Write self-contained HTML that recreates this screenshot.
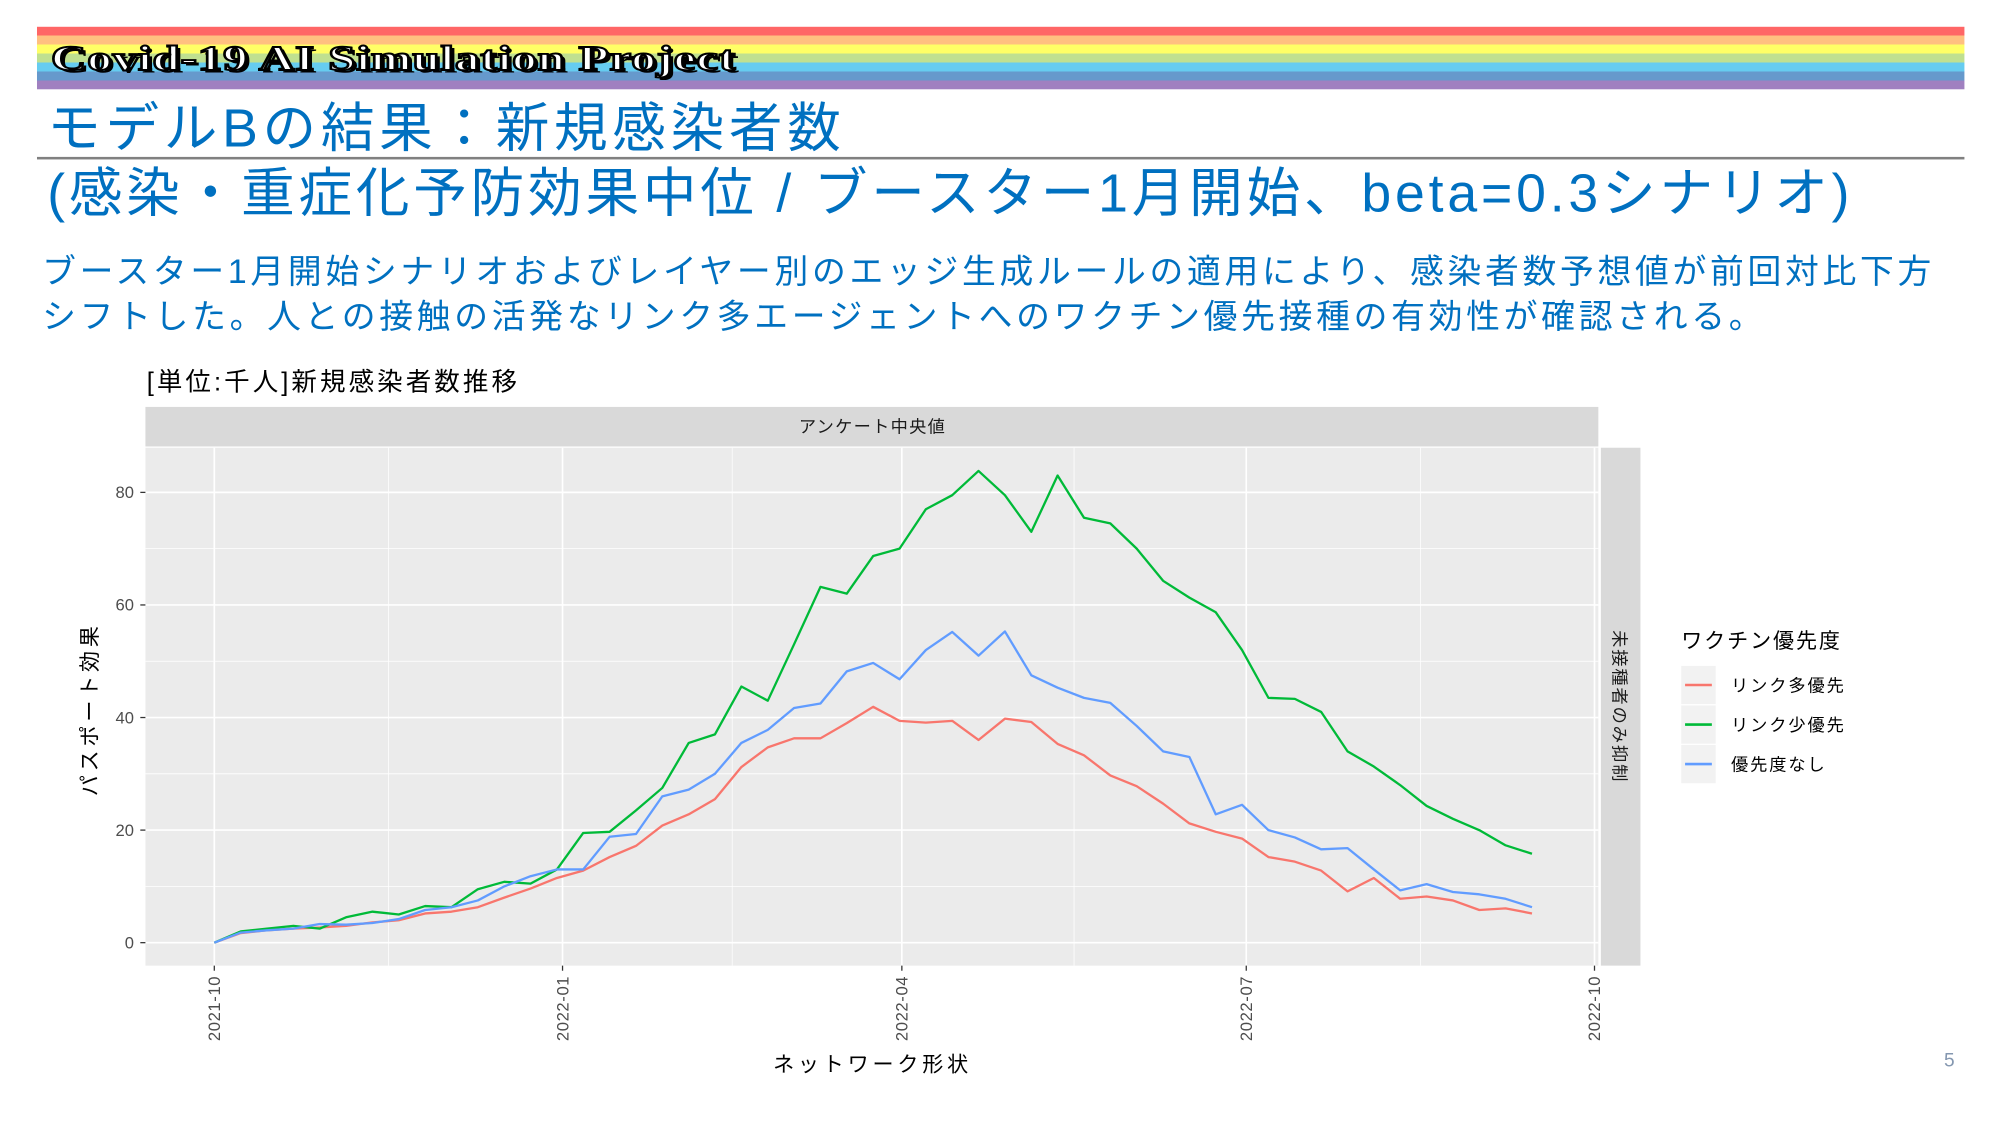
<!DOCTYPE html>
<html><head><meta charset="utf-8"><style>
body{margin:0;background:#fff;overflow:hidden;}
#w{width:1568px;height:882px;position:relative;transform:scale(1.2756);transform-origin:0 0;font-family:"Liberation Sans","Noto Sans CJK JP",sans-serif;}
.a{position:absolute;white-space:nowrap;}
.t{color:#0070C0;font-size:42px;line-height:1;}
.b{color:#0070C0;font-size:26.5px;line-height:1;letter-spacing:2.9px;}
</style></head><body><div id="w">
<div class="a" style="left:29px;top:21px;width:1511px;height:49px;background:linear-gradient(#FF6666 0 7px,#FFC080 7px 14px,#FFFF66 14px 21px,#C0E090 21px 28px,#66CCF0 28px 35px,#6699CC 35px 42px,#A080C0 42px 49px);"></div>
<div class="a" style="left:40px;top:31px;font-family:'Liberation Serif',serif;font-weight:bold;font-size:27px;color:#fff;-webkit-text-stroke:1.5px #000;letter-spacing:0.5px;text-shadow:2px 2px 0 #000;transform:scaleX(1.42);transform-origin:0 0;">Covid-19 AI Simulation Project</div>
<div class="a t" style="left:37px;top:80px;letter-spacing:3.7px;">モデルBの結果：新規感染者数</div>
<div class="a" style="left:29px;top:123px;width:1511px;height:2px;background:#808080;"></div>
<div class="a t" style="left:37px;top:131px;letter-spacing:3.0px;">(感染・重症化予防効果中位 / ブースター1月開始、beta=0.3シナリオ)</div>
<div class="a b" style="left:33px;top:200px;">ブースター1月開始シナリオおよびレイヤー別のエッジ生成ルールの適用により、感染者数予想値が前回対比下方</div>
<div class="a b" style="left:33px;top:235px;">シフトした。人との接触の活発なリンク多エージェントへのワクチン優先接種の有効性が確認される。</div>
<div class="a" style="left:115px;top:283px;font-size:20px;color:#000;letter-spacing:2.4px;">[単位:千人]新規感染者数推移</div>
<div class="a" style="left:1524px;top:823px;font-size:15px;color:#8497B0;">5</div>
<svg class="a" style="left:0;top:0" width="1568" height="882" id="s">
<rect x="114" y="319" width="1139" height="31" fill="#D9D9D9"/>
<text x="684" y="339" font-size="13.5" text-anchor="middle" fill="#1A1A1A" letter-spacing="1">アンケート中央値</text>
<rect x="114" y="351" width="1139" height="406" fill="#EBEBEB"/>
<rect x="1255" y="351" width="31" height="406" fill="#D9D9D9"/>
<text transform="translate(1265,554) rotate(90)" font-size="13.5" text-anchor="middle" fill="#1A1A1A" letter-spacing="1.5">未接種者のみ抑制</text>
<g id="g"></g>
<text transform="translate(76,556) rotate(-90)" font-size="16.5" text-anchor="middle" fill="#000" letter-spacing="3">パスポート効果</text>
<text x="684" y="840" font-size="16.5" text-anchor="middle" fill="#000" letter-spacing="3">ネットワーク形状</text>
<text x="1318" y="508" font-size="16.5" fill="#000" letter-spacing="1.5">ワクチン優先度</text>
<rect x="1318" y="522" width="27" height="30" fill="#F2F2F2"/>
<rect x="1318" y="553" width="27" height="30" fill="#F2F2F2"/>
<rect x="1318" y="584" width="27" height="30" fill="#F2F2F2"/>
<line x1="1321" x2="1342" y1="537" y2="537" stroke="#F8766D" stroke-width="2"/>
<line x1="1321" x2="1342" y1="568" y2="568" stroke="#00BA38" stroke-width="2"/>
<line x1="1321" x2="1342" y1="599" y2="599" stroke="#619CFF" stroke-width="2"/>
<text x="1357" y="542" font-size="13.5" fill="#000" letter-spacing="1.5">リンク多優先</text>
<text x="1357" y="573" font-size="13.5" fill="#000" letter-spacing="1.5">リンク少優先</text>
<text x="1357" y="604" font-size="13.5" fill="#000" letter-spacing="1.5">優先度なし</text>
</svg>
</div>
<script>
var g=document.getElementById('g'),h='';
function Y(v){return 739-v*4.4125;}
var xs=[168,441,707,977,1250],lb=['2021-10','2022-01','2022-04','2022-07','2022-10'];
for(var i=0;i<4;i++){var m=(xs[i]+xs[i+1])/2;h+='<line x1="'+m+'" x2="'+m+'" y1="351" y2="757" stroke="#fff" stroke-width="0.6"/>';}
for(var v=10;v<=80;v+=20)h+='<line x1="114" x2="1253" y1="'+Y(v)+'" y2="'+Y(v)+'" stroke="#fff" stroke-width="0.6"/>';
for(var v=0;v<=80;v+=20){h+='<line x1="114" x2="1253" y1="'+Y(v)+'" y2="'+Y(v)+'" stroke="#fff" stroke-width="1.3"/>';
h+='<line x1="110" x2="114" y1="'+Y(v)+'" y2="'+Y(v)+'" stroke="#333" stroke-width="1"/>';
h+='<text x="105" y="'+(Y(v)+4.5)+'" font-size="13" text-anchor="end" fill="#4D4D4D">'+v+'</text>';}
for(var i=0;i<5;i++){h+='<line x1="'+xs[i]+'" x2="'+xs[i]+'" y1="351" y2="757" stroke="#fff" stroke-width="1.3"/>';
h+='<line x1="'+xs[i]+'" x2="'+xs[i]+'" y1="757" y2="761" stroke="#333"/>';
h+='<text transform="translate('+(xs[i]+4.5)+',765) rotate(-90)" font-size="13" text-anchor="end" fill="#4D4D4D" letter-spacing="0.5">'+lb[i]+'</text>';}
var G=[0,2,2.5,3,2.5,4.5,5.5,5,6.5,6.3,9.5,10.8,10.5,13,19.5,19.7,23.5,27.5,35.5,37,45.5,43,53,63.2,62,68.7,70,77,79.5,83.8,79.5,73,83,75.5,74.5,70,64.3,61.3,58.7,52,43.5,43.3,41,34,31.3,28,24.3,22,20,17.3,15.8];
var B=[0,1.8,2.2,2.5,3.3,3.2,3.5,4.2,5.8,6.3,7.5,10,11.8,13,13,18.8,19.3,26,27.2,30,35.5,37.8,41.7,42.5,48.2,49.7,46.8,52,55.2,51,55.3,47.5,45.3,43.5,42.6,38.5,34,33,22.8,24.5,20,18.7,16.6,16.8,13,9.3,10.4,9,8.6,7.8,6.3];
var R=[0,1.7,2.2,2.5,2.7,3,3.6,4,5.2,5.5,6.3,8,9.6,11.5,12.8,15.2,17.2,20.8,22.8,25.5,31.2,34.7,36.3,36.3,39,41.9,39.4,39.1,39.4,36,39.8,39.2,35.3,33.3,29.7,27.8,24.7,21.2,19.7,18.5,15.2,14.4,12.8,9.1,11.5,7.8,8.2,7.5,5.8,6.1,5.2];
function pl(d,c){var p=d.map(function(v,i){return (168+i*20.66).toFixed(1)+','+Y(v).toFixed(1);}).join(' ');
return '<polyline points="'+p+'" fill="none" stroke="'+c+'" stroke-width="1.8" stroke-linejoin="round"/>';}
h+=pl(R,'#F8766D')+pl(G,'#00BA38')+pl(B,'#619CFF');
g.innerHTML=h;
</script>
</body></html>
